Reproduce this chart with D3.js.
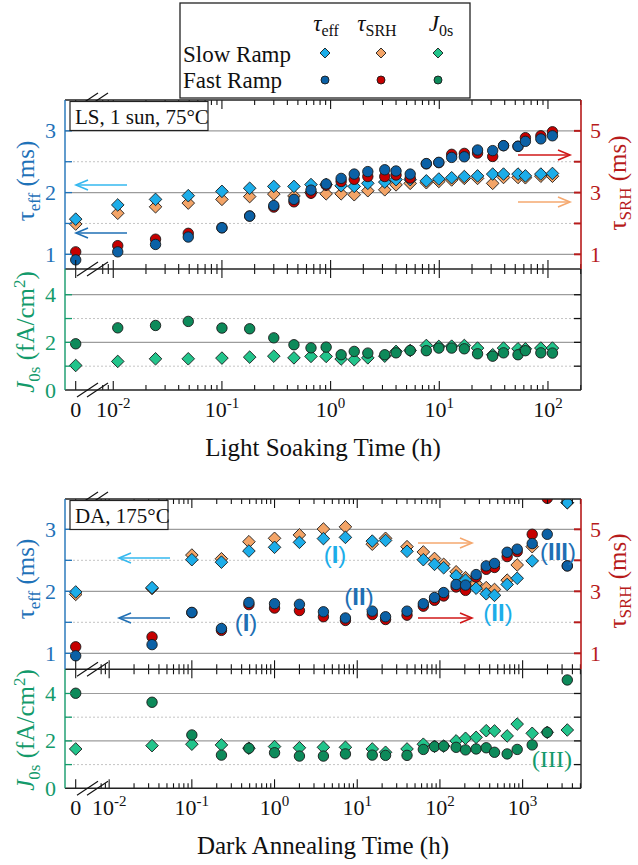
<!DOCTYPE html>
<html><head><meta charset="utf-8">
<script src="https://cdn.jsdelivr.net/npm/d3@7"></script>
<style>body{margin:0;background:#fff} svg{display:block}</style>
</head><body><svg id="c" width="638" height="865"></svg>
<script>
// ---------------- DATA ----------------
// Light soaking (LS, 1 sun, 75°C) — time in hours
const lsTime    = [0, 0.011, 0.0245, 0.049, 0.1, 0.18, 0.3, 0.46, 0.66, 0.91, 1.25, 1.65, 2.2, 3.15, 4.0, 5.4, 7.6, 9.9, 13, 17, 22.5, 31, 39, 53, 62, 86, 110];
const lsEffSlow = [1.57,1.80,1.89,1.95,2.02,2.07,2.10,2.10,2.13,2.13,2.11,2.10,2.15,2.17,2.21,2.21,2.19,2.22,2.24,2.26,2.27,2.30,2.30,2.30,2.27,2.30,2.31];
const lsSrhSlow = [1.98,2.33,2.54,2.66,2.78,2.87,2.95,2.89,3.00,2.96,2.96,2.93,3.06,3.09,3.25,3.30,3.32,3.36,3.41,3.46,3.46,3.30,3.49,3.49,3.48,3.53,3.53];
const lsEffFast = [0.91,1.04,1.16,1.28,1.43,1.62,1.79,1.89,2.04,2.14,2.23,2.30,2.34,2.37,2.35,2.30,2.47,2.49,2.57,2.58,2.69,2.68,2.76,2.75,2.83,2.87,2.92];
const lsSrhFast = [1.08,1.28,1.49,1.68,1.86,2.24,2.53,2.70,2.98,3.24,3.36,3.43,3.52,3.52,3.57,3.47,3.93,3.97,4.24,4.27,4.28,4.17,4.52,4.50,4.78,4.84,4.97];
const lsJ0Slow  = [1.03,1.20,1.31,1.31,1.34,1.38,1.42,1.35,1.41,1.41,1.30,1.27,1.35,1.42,1.62,1.66,1.87,1.83,1.84,1.87,1.76,1.48,1.76,1.73,1.73,1.76,1.76];
const lsJ0Fast  = [1.94,2.61,2.71,2.88,2.60,2.57,2.19,1.90,1.77,1.80,1.48,1.62,1.55,1.48,1.56,1.66,1.65,1.76,1.76,1.73,1.52,1.42,1.56,1.48,1.65,1.56,1.55];

// Dark annealing (DA, 175°C)
const daTime    = [0, 0.033, 0.1, 0.228, 0.49, 1, 2, 3.9, 7.2, 15.2, 22, 40, 63, 86, 111, 157, 204, 274, 363, 457, 650, 860, 1306, 1986, 3470];
const daEffSlow = [1.99,2.06,2.51,2.47,2.65,2.71,2.79,2.85,2.87,2.81,2.82,2.645,2.51,2.435,2.38,2.25,2.18,2.05,1.96,1.935,2.11,2.21,2.49,null,3.43];
const daSrhSlow = [2.90,3.09,4.17,4.05,4.60,4.71,4.82,5.01,5.08,4.52,4.71,4.44,4.27,4.06,3.87,3.63,3.44,3.25,3.12,3.06,3.36,3.85,4.44,null,5.86];
const daEffFast = [0.96,1.14,1.66,1.40,1.82,1.80,1.79,1.67,1.57,1.68,1.59,1.68,1.80,1.90,1.98,2.11,2.10,2.27,2.41,2.45,2.63,2.68,2.77,2.92,2.41];
const daSrhFast = [1.21,1.53,2.31,1.74,2.57,2.46,2.38,2.18,2.06,2.25,2.09,2.23,2.52,2.71,2.85,3.14,3.03,3.46,3.71,3.77,4.12,4.28,4.84,6.0,3.82];
const daJ0Slow  = [1.66,1.80,1.86,1.83,1.69,1.76,1.71,1.73,1.73,1.66,1.52,1.66,1.86,1.77,1.78,2.00,2.11,2.15,2.43,2.42,2.21,2.71,2.32,2.36,2.46];
const daJ0Fast  = [4.01,3.63,2.25,1.40,1.69,1.50,1.36,1.36,1.45,1.40,1.39,1.39,1.64,1.76,1.78,1.73,1.62,1.66,1.71,1.52,1.45,1.64,1.83,2.36,4.57];

// tick labels
const effTickLabels = [1, 2, 3];
const srhTickLabels = [1, 3, 5];
const jTickLabels   = [0, 2, 4];
const lsDecades = [-2, -1, 0, 1, 2];
const daDecades = [-2, -1, 0, 1, 2, 3];

// ---------------- STYLE ----------------
const C = { cyan:"#1cade9", orange:"#f3a467", blue:"#0b61a6", red:"#c60000",
            mint:"#22c48b", dkgreen:"#0d8a5a",
            axBlue:"#1f72b8", axGreen:"#139a6b", axRed:"#b71b1b",
            arCyan:"#35b8ef", arBlue:"#1f6fb4", arRed:"#d01818", arOrange:"#f5a86f" };
const serif = "'Liberation Serif','Times New Roman',serif";
const sans  = "'Liberation Sans',Arial,sans-serif";
const L = 65, R = 581;
const svg = d3.select("#c");
const diamond = s => `M0,${-s}L${s},0L0,${s}L${-s},0Z`;

function arrow(g, x1, y, x2, color) {
  const dir = x2 > x1 ? 1 : -1;
  g.append("line").attr("x1", x1).attr("x2", x2).attr("y1", y).attr("y2", y)
    .attr("stroke", color).attr("stroke-width", 1.6);
  g.append("path").attr("d", `M${x2 - dir*12},${y-5}L${x2},${y}L${x2 - dir*12},${y+5}`)
    .attr("fill", "none").attr("stroke", color).attr("stroke-width", 1.6);
}

function drawPanel(p) {
  const g = svg.append("g");
  const xl = d3.scaleLog().domain(p.xDom).range([L, R]);
  const xp = t => t === 0 ? p.zeroX : xl(t);
  const yE = d3.scaleLinear().domain(p.effDom).range([p.mid, p.top]);
  const yS = d3.scaleLinear().domain(p.srhDom).range([p.mid, p.top]);
  const yJ = d3.scaleLinear().domain(p.jDom).range([p.bot, p.mid]);

  // grid
  [[1,0],[1.5,1],[2,0],[2.5,1],[3,0]].forEach(([v,d]) => {
    g.append("line").attr("x1", L).attr("x2", R).attr("y1", yE(v)).attr("y2", yE(v))
      .attr("stroke", d ? "#c4c4c4" : "#9c9c9c").attr("stroke-width", d ? 1 : 1.2)
      .attr("stroke-dasharray", d ? "2,2" : null);
  });
  [[1,1],[2,0],[3,1],[4,0]].forEach(([v,d]) => {
    g.append("line").attr("x1", L).attr("x2", R).attr("y1", yJ(v)).attr("y2", yJ(v))
      .attr("stroke", d ? "#c4c4c4" : "#9c9c9c").attr("stroke-width", d ? 1 : 1.2)
      .attr("stroke-dasharray", d ? "2,2" : null);
  });

  // clip
  const cid = "clip" + p.id;
  svg.append("clipPath").attr("id", cid).append("rect").attr("x", L).attr("y", p.top).attr("width", R - L).attr("height", p.mid - p.top);
  const cid2 = "clipj" + p.id;
  svg.append("clipPath").attr("id", cid2).append("rect").attr("x", L).attr("y", p.mid).attr("width", R - L).attr("height", p.bot - p.mid);

  const dTau = g.append("g").attr("clip-path", `url(#${cid})`);
  const dJ = g.append("g").attr("clip-path", `url(#${cid2})`);
  const pts = (arr) => p.time.map((t, i) => ({t, v: arr[i]})).filter(d => d.v != null);

  const addDiamonds = (grp, arr, ys, col) => grp.selectAll(null).data(pts(arr)).join("path")
    .attr("d", diamond(6.3)).attr("transform", d => `translate(${xp(d.t)},${ys(d.v)})`)
    .attr("fill", col).attr("stroke", "#1a1a1a").attr("stroke-width", 0.9);
  const addCircles = (grp, arr, ys, col) => grp.selectAll(null).data(pts(arr)).join("circle")
    .attr("cx", d => xp(d.t)).attr("cy", d => ys(d.v)).attr("r", 5.2)
    .attr("fill", col).attr("stroke", "#1a1a1a").attr("stroke-width", 0.9);

  addDiamonds(dTau, p.srhSlow, yS, C.orange);
  addDiamonds(dTau, p.effSlow, yE, C.cyan);
  addCircles(dTau, p.srhFast, yS, C.red);
  addCircles(dTau, p.effFast, yE, C.blue);
  addDiamonds(dJ, p.j0Slow, yJ, C.mint);
  addCircles(dJ, p.j0Fast, yJ, C.dkgreen);

  // x ticks
  const xmax = p.xDom[1];
  const ticks = [];
  for (let d = -3; d <= 4; d++) for (let k = 1; k <= 9; k++) {
    const v = k * Math.pow(10, d);
    if (v >= 0.0079 && v <= xmax) ticks.push({x: xl(v), major: k === 1});
  }
  ticks.push({x: p.zeroX, major: true});
  const tk = (y, up, down) => ticks.forEach(t => {
    const len = t.major ? 9 : 5;
    g.append("line").attr("x1", t.x).attr("x2", t.x)
      .attr("y1", y - (up ? len : 0)).attr("y2", y + (down ? len : 0))
      .attr("stroke", "#111").attr("stroke-width", 1.1);
  });
  tk(p.top, false, true);
  tk(p.mid, true, true);
  tk(p.bot, true, false);

  // y ticks
  [1,1.5,2,2.5,3].forEach(v => g.append("line").attr("x1", L).attr("x2", L + 7).attr("y1", yE(v)).attr("y2", yE(v)).attr("stroke", C.axBlue).attr("stroke-width", 1.3));
  [1,2,3,4].forEach(v => g.append("line").attr("x1", L).attr("x2", L + 7).attr("y1", yJ(v)).attr("y2", yJ(v)).attr("stroke", C.axGreen).attr("stroke-width", 1.3));
  [1,2,3,4,5].forEach(v => g.append("line").attr("x1", R - 7).attr("x2", R).attr("y1", yS(v)).attr("y2", yS(v)).attr("stroke", C.axRed).attr("stroke-width", 2));
  [1,2,3,4].forEach(v => g.append("line").attr("x1", R - 7).attr("x2", R).attr("y1", yJ(v)).attr("y2", yJ(v)).attr("stroke", "#111").attr("stroke-width", 1.3));

  // spines
  const ln = (x1,y1,x2,y2,c,w) => g.append("line").attr("x1",x1).attr("y1",y1).attr("x2",x2).attr("y2",y2).attr("stroke",c).attr("stroke-width",w);
  ln(L, p.top, R, p.top, "#222", 1.4);
  ln(L, p.mid, R, p.mid, "#222", 1.4);
  ln(L, p.bot, R, p.bot, "#222", 1.4);
  ln(L, p.top, L, p.mid, C.axBlue, 1.4);
  ln(L, p.mid, L, p.bot, C.axGreen, 1.4);
  ln(R, p.top, R, p.mid, C.axRed, 1.6);
  ln(R, p.mid, R, p.bot, "#222", 1.4);

  // breaks
  [p.top, p.mid, p.bot].forEach(y => {
    [77, 87].forEach(x0 => ln(x0, y + 7, x0 + 21, y - 7, "#111", 1.1));
  });

  // y tick labels
  effTickLabels.forEach(v => g.append("text").attr("x", 56).attr("y", yE(v) + 7.5).attr("text-anchor", "end")
    .attr("font-family", serif).attr("font-size", 22).attr("fill", C.axBlue).text(v));
  jTickLabels.forEach(v => g.append("text").attr("x", 56).attr("y", yJ(v) + 7.5).attr("text-anchor", "end")
    .attr("font-family", serif).attr("font-size", 22).attr("fill", C.axGreen).text(v));
  srhTickLabels.forEach(v => g.append("text").attr("x", 590).attr("y", yS(v) + 7.5).attr("text-anchor", "start")
    .attr("font-family", serif).attr("font-size", 22).attr("fill", C.axRed).text(v));

  // x tick labels
  const ly = p.bot + 27;
  g.append("text").attr("x", p.zeroX).attr("y", ly).attr("text-anchor", "middle")
    .attr("font-family", serif).attr("font-size", 22).attr("fill", "#111").text("0");
  p.decades.forEach(d => {
    const t = g.append("text").attr("x", xl(Math.pow(10, d))).attr("y", ly).attr("text-anchor", "middle")
      .attr("font-family", serif).attr("font-size", 22).attr("fill", "#111");
    t.append("tspan").text("10");
    t.append("tspan").attr("dy", -9).attr("font-size", 15).text(d);
  });
  // x title
  g.append("text").attr("x", 323).attr("y", p.bot + 66).attr("text-anchor", "middle")
    .attr("font-family", serif).attr("font-size", 25).attr("fill", "#111").text(p.xTitle);

  // y titles
  const yt1 = g.append("text").attr("transform", `translate(34,${p.effTitleY}) rotate(-90)`).attr("text-anchor", "middle")
    .attr("font-family", serif).attr("font-size", 25).attr("fill", C.axBlue);
  yt1.append("tspan").text("τ");
  yt1.append("tspan").attr("dy", 6).attr("font-size", 17).text("eff");
  yt1.append("tspan").attr("dy", -6).text(" (ms)");

  const yt2 = g.append("text").attr("transform", `translate(34,${p.jTitleY}) rotate(-90)`).attr("text-anchor", "middle")
    .attr("font-family", serif).attr("font-size", 25).attr("fill", C.axGreen);
  yt2.append("tspan").attr("font-style", "italic").text("J");
  yt2.append("tspan").attr("dy", 6).attr("font-size", 17).text("0s");
  yt2.append("tspan").attr("dy", -6).text(" (fA/cm");
  yt2.append("tspan").attr("dy", -9).attr("font-size", 17).text("2");
  yt2.append("tspan").attr("dy", 9).text(")");

  const yt3 = g.append("text").attr("transform", `translate(626,${p.srhTitleY}) rotate(-90)`).attr("text-anchor", "middle")
    .attr("font-family", serif).attr("font-size", 25).attr("fill", C.axRed);
  yt3.append("tspan").text("τ");
  yt3.append("tspan").attr("dy", 5).attr("font-size", 17).text("SRH");
  yt3.append("tspan").attr("dy", -5).text(" (ms)");

  // panel label box
  g.append("rect").attr("x", 70).attr("y", p.top + 1.5).attr("width", p.boxW).attr("height", 29)
    .attr("fill", "#fff").attr("stroke", "#222").attr("stroke-width", 1.2);
  g.append("text").attr("x", 75).attr("y", p.top + 24).attr("font-family", serif).attr("font-size", 21)
    .attr("fill", "#111").text(p.label);

  return {g, xl, xp, yE, yS, yJ};
}

// ---------------- PANELS ----------------
const panelLS = drawPanel({
  id: "ls", time: lsTime, effSlow: lsEffSlow, srhSlow: lsSrhSlow, effFast: lsEffFast, srhFast: lsSrhFast,
  j0Slow: lsJ0Slow, j0Fast: lsJ0Fast,
  xDom: [Math.pow(10, -2.444), Math.pow(10, 2.304)], zeroX: 75.7,
  top: 100, mid: 269, bot: 390,
  effDom: [0.762, 3.5], srhDom: [0.524, 6.0], jDom: [0, 5.08],
  decades: lsDecades, xTitle: "Light Soaking Time (h)",
  effTitleY: 181, jTitleY: 332, srhTitleY: 183,
  label: "LS, 1 sun, 75°C", boxW: 138
});
const panelDA = drawPanel({
  id: "da", time: daTime, effSlow: daEffSlow, srhSlow: daSrhSlow, effFast: daEffFast, srhFast: daSrhFast,
  j0Slow: daJ0Slow, j0Fast: daJ0Fast,
  xDom: [Math.pow(10, -2.534), Math.pow(10, 3.706)], zeroX: 75.7,
  top: 499, mid: 669.3, bot: 788.3,
  effDom: [0.742, 3.489], srhDom: [0.484, 5.978], jDom: [0, 5.02],
  decades: daDecades, xTitle: "Dark Annealing Time (h)",
  effTitleY: 579, jTitleY: 730, srhTitleY: 581,
  label: "DA, 175°C", boxW: 98
});

// arrows
arrow(panelLS.g, 127, 185, 76, C.arCyan);
arrow(panelLS.g, 127, 233, 76, C.arBlue);
arrow(panelLS.g, 518, 155, 570, C.arRed);
arrow(panelLS.g, 518, 202, 570, C.arOrange);
arrow(panelDA.g, 170, 558, 119, C.arCyan);
arrow(panelDA.g, 170, 618, 119, C.arBlue);
arrow(panelDA.g, 418, 543, 472, C.arOrange);
arrow(panelDA.g, 418, 618, 472, C.arRed);

// annotations
function roman(g, x, y, txt, col, font, bold) {
  const t = g.append("text").attr("x", x).attr("y", y).attr("text-anchor", "middle")
    .attr("font-family", font).attr("font-size", 24).attr("fill", col);
  t.append("tspan").text("(");
  t.append("tspan").attr("font-weight", bold ? "bold" : "normal").text(txt);
  t.append("tspan").text(")");
}
roman(panelDA.g, 335, 563, "I", C.cyan, sans, true);
roman(panelDA.g, 246, 631, "I", C.arBlue, sans, true);
roman(panelDA.g, 359, 605, "II", C.arBlue, sans, true);
roman(panelDA.g, 498, 621, "II", C.cyan, sans, true);
roman(panelDA.g, 558, 560, "III", C.arBlue, sans, true);
roman(panelDA.g, 552, 767, "III", C.axGreen, serif, false);

// ---------------- LEGEND ----------------
const lg = svg.append("g");
lg.append("rect").attr("x", 180).attr("y", 3).attr("width", 290).attr("height", 95)
  .attr("fill", "#fff").attr("stroke", "#222").attr("stroke-width", 1.3);
const hdr = (x, main, sub) => {
  const t = lg.append("text").attr("x", x).attr("y", 31).attr("text-anchor", "middle")
    .attr("font-family", serif).attr("font-size", 23).attr("fill", "#111");
  t.append("tspan").attr("font-style", "italic").text(main);
  t.append("tspan").attr("dy", 5).attr("font-size", 16).text(sub);
};
hdr(326, "τ", "eff");
hdr(377, "τ", "SRH");
hdr(441, "J", "0s");
lg.append("text").attr("x", 183).attr("y", 62).attr("font-family", serif).attr("font-size", 23).attr("fill", "#111").text("Slow Ramp");
lg.append("text").attr("x", 183).attr("y", 88).attr("font-family", serif).attr("font-size", 23).attr("fill", "#111").text("Fast Ramp");
[[325, C.cyan, C.blue], [381, C.orange, C.red], [438, C.mint, C.dkgreen]].forEach(([x, cs, cf]) => {
  lg.append("path").attr("d", diamond(5)).attr("transform", `translate(${x},53)`).attr("fill", cs).attr("stroke", "#1a1a1a").attr("stroke-width", 0.9);
  lg.append("circle").attr("cx", x).attr("cy", 80).attr("r", 4).attr("fill", cf).attr("stroke", "#1a1a1a").attr("stroke-width", 0.9);
});
</script></body></html>
